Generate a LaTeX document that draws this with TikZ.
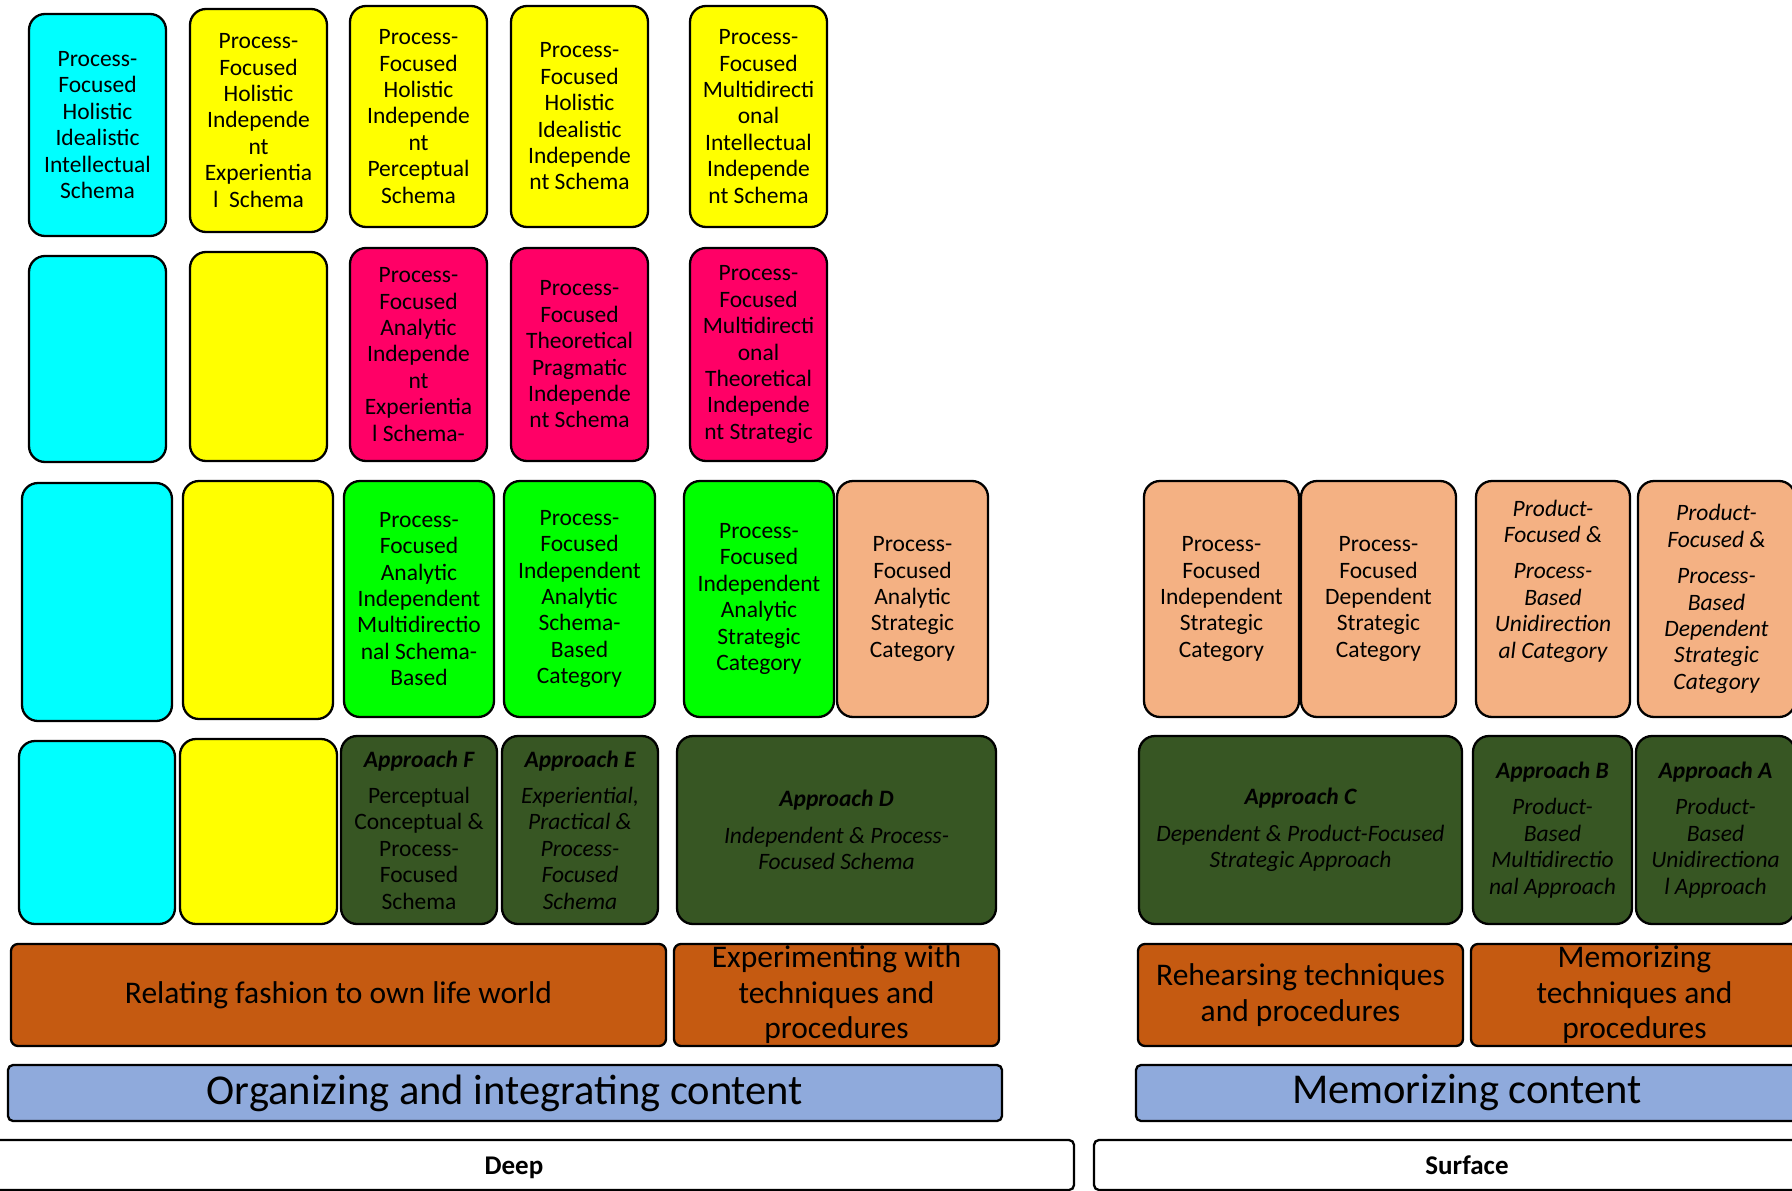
\documentclass[tikz,border=0pt]{standalone}
\usepackage{fontspec}
\setmainfont{Carlito}
\usepackage{tikz}

\definecolor{aqua}{HTML}{00FFFF}
\definecolor{lemon}{HTML}{FFFF00}
\definecolor{rose}{HTML}{FF0066}
\definecolor{lime}{HTML}{00FF00}
\definecolor{peach}{HTML}{F4B183}
\definecolor{forest}{HTML}{375623}
\definecolor{rust}{HTML}{C55A11}
\definecolor{sky}{HTML}{8FAADC}

\begin{document}
\begin{tikzpicture}[x=1pt,y=-1pt,
  blk/.style={draw=black,line width=2.3pt,rounded corners=16pt},
  bar/.style={draw=black,line width=2.3pt,rounded corners=7pt},
  txt/.style={pos=.5,align=center,inner sep=0pt,font=\fontsize{23.5}{26.4}\selectfont},
  itxt/.style={txt,font=\fontsize{23.5}{26.4}\selectfont\itshape},
  bigtxt/.style={pos=.5,align=center,inner sep=0pt,font=\fontsize{31.5}{35.5}\selectfont},
  hugetxt/.style={pos=.5,align=center,inner sep=0pt,font=\fontsize{42.5}{48}\selectfont},
  basetxt/.style={pos=.5,align=center,inner sep=0pt,font=\fontsize{27}{30}\selectfont\bfseries}]
\useasboundingbox (0,0) rectangle (1792,1191);
\clip (0,0) rectangle (1792,1191);

% top row
\draw[blk,fill=aqua] (29,14) rectangle (166,236) node[txt] (holIntel) {Process-\\Focused\\Holistic\\Idealistic\\Intellectual\\Schema};
\draw[blk,fill=lemon] (190,9) rectangle (327,232) node[txt] (holExper) {Process-\\Focused\\Holistic\\Independe\\nt\\Experientia\\l~ Schema};
\draw[blk,fill=lemon] (350,6) rectangle (487,227) node[txt] (holPercep) {Process-\\Focused\\Holistic\\Independe\\nt\\Perceptual\\Schema};
\draw[blk,fill=lemon] (511,6) rectangle (648,227) node[txt] (holIdeal) {Process-\\Focused\\Holistic\\Idealistic\\Independe\\nt Schema};
\draw[blk,fill=lemon] (690,6) rectangle (827,227) node[txt] (multIntel) {Process-\\Focused\\Multidirecti\\onal\\Intellectual\\Independe\\nt Schema};

% second row
\draw[blk,fill=aqua] (29,256) rectangle (166,462);
\draw[blk,fill=lemon] (190,252) rectangle (327,461);
\draw[blk,fill=rose] (350,248) rectangle (487,461) node[txt] (anaExper) {Process-\\Focused\\Analytic\\Independe\\nt\\Experientia\\l Schema-};
\draw[blk,fill=rose] (511,248) rectangle (648,461) node[txt] (theoPrag) {Process-\\Focused\\Theoretical\\Pragmatic\\Independe\\nt Schema};
\draw[blk,fill=rose] (690,248) rectangle (827,461) node[txt] (multTheo) {Process-\\Focused\\Multidirecti\\onal\\Theoretical\\Independe\\nt Strategic};

% categories
\draw[blk,fill=aqua] (22,483) rectangle (172,721);
\draw[blk,fill=lemon] (183,481) rectangle (333,719);
\draw[blk,fill=lime] (344,481) rectangle (494,717) node[txt] (anaMulti) {Process-\\Focused\\Analytic\\Independent\\Multidirectio\\nal Schema-\\Based};
\draw[blk,fill=lime] (504,481) rectangle (655,717) node[txt] (indSchema) {Process-\\Focused\\Independent\\Analytic\\Schema-\\Based\\Category};
\draw[blk,fill=lime] (684,481) rectangle (834,717) node[txt] (indStrat) {Process-\\Focused\\Independent\\Analytic\\Strategic\\Category};
\draw[blk,fill=peach] (837,481) rectangle (988,717) node[txt] (anaStrat) {Process-\\Focused\\Analytic\\Strategic\\Category};
\draw[blk,fill=peach] (1144,481) rectangle (1299,717) node[txt] (indStratCat) {Process-\\Focused\\Independent\\Strategic\\Category};
\draw[blk,fill=peach] (1301,481) rectangle (1456,717) node[txt] (depStratCat) {Process-\\Focused\\Dependent\\Strategic\\Category};
\draw[blk,fill=peach] (1476,481) rectangle (1630,717) node[itxt,yshift=18pt] (uniCat) {Product-\\Focused \&\\[10pt]Process-\\Based\\Unidirection\\al Category};
\draw[blk,fill=peach] (1638,481) rectangle (1795,717) node[itxt] (depCat) {Product-\\Focused \&\\[10pt]Process-\\Based\\Dependent\\Strategic\\Category};

% approaches
\draw[blk,fill=aqua] (19,741) rectangle (175,924);
\draw[blk,fill=lemon] (180,739) rectangle (337,924);
\draw[blk,fill=forest] (341,736) rectangle (497,924) node[txt] (apprF) {{\bfseries\itshape Approach F}\\[10pt]Perceptual\\Conceptual \&\\Process-\\Focused\\Schema};
\draw[blk,fill=forest] (502,736) rectangle (658,924) node[itxt] (apprE) {{\bfseries Approach E}\\[10pt]Experiential,\\Practical \&\\Process-\\Focused\\Schema};
\draw[blk,fill=forest] (677,736) rectangle (996,924) node[itxt] (apprD) {{\bfseries Approach D}\\[10pt]Independent \& Process-\\Focused Schema};
\draw[blk,fill=forest] (1139,736) rectangle (1462,924) node[itxt] (apprC) {{\bfseries Approach C}\\[10pt]Dependent \& Product-Focused\\Strategic Approach};
\draw[blk,fill=forest] (1473,736) rectangle (1632,924) node[itxt] (apprB) {{\bfseries Approach B}\\[10pt]Product-\\Based\\Multidirectio\\nal Approach};
\draw[blk,fill=forest] (1636,736) rectangle (1795,924) node[itxt] (apprA) {{\bfseries Approach A}\\[10pt]Product-\\Based\\Unidirectiona\\l Approach};

% activities
\draw[bar,fill=rust] (11,944) rectangle (666,1046) node[bigtxt] (relating) {Relating fashion to own life world};
\draw[bar,fill=rust] (674,944) rectangle (999,1046) node[bigtxt] (experim) {Experimenting with\\techniques and\\procedures};
\draw[bar,fill=rust] (1138,944) rectangle (1463,1046) node[bigtxt] (rehears) {Rehearsing techniques\\and procedures};
\draw[bar,fill=rust] (1471,944) rectangle (1798,1046) node[bigtxt] (memTech) {Memorizing\\techniques and\\procedures};

% content
\draw[bar,rounded corners=5pt,fill=sky] (8,1065) rectangle (1002,1121) node[hugetxt] (organizing) {Organizing and integrating content};
\draw[bar,rounded corners=5pt,fill=sky] (1136,1065) rectangle (1798,1121) node[hugetxt] (memContent) {Memorizing content};

% level
\draw[bar,rounded corners=5pt,fill=white] (-46,1140) rectangle (1074,1190) node[basetxt,yshift=-3pt] (deep) {Deep};
\draw[bar,rounded corners=5pt,fill=white] (1094,1140) rectangle (1840,1190) node[basetxt] (surface) {Surface};
\end{tikzpicture}
\end{document}
